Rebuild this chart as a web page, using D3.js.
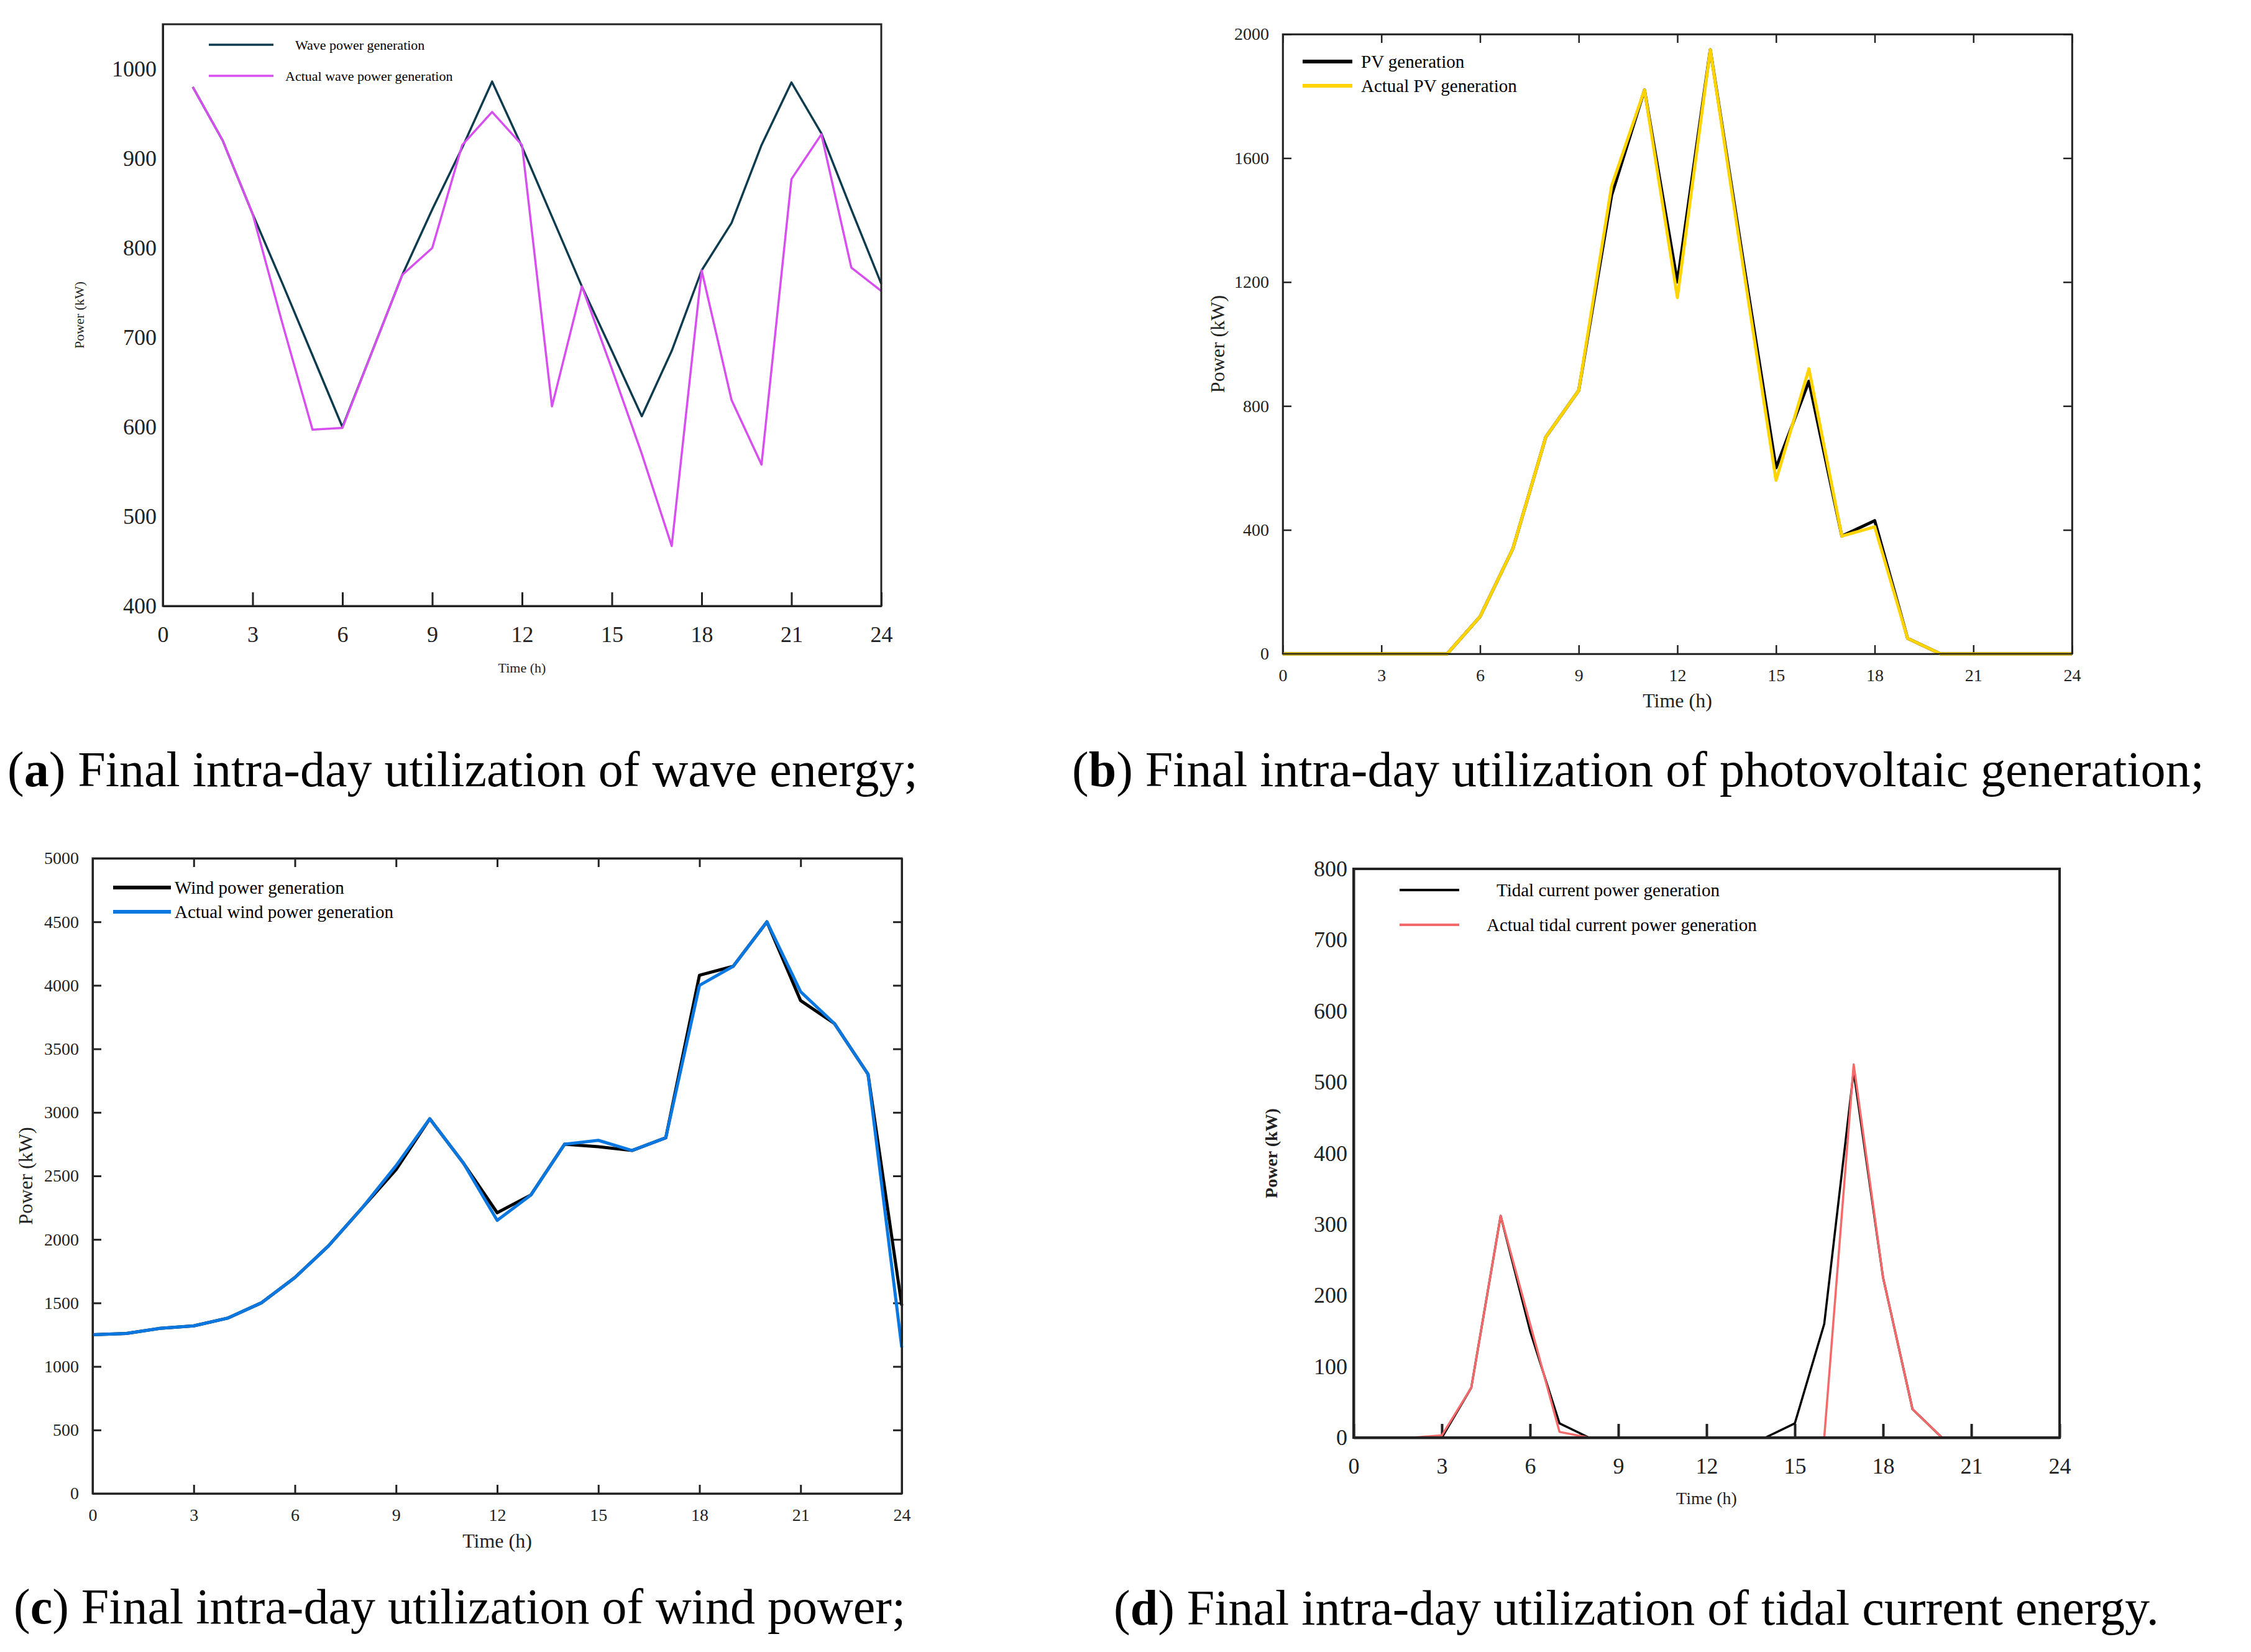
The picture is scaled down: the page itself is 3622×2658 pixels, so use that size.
<!DOCTYPE html>
<html><head><meta charset="utf-8">
<script src="https://cdn.jsdelivr.net/npm/d3@7"></script>
<style>body{margin:0;background:#fff}svg{font-family:"Liberation Serif",serif}</style>
</head><body>
<svg id="fig" width="3622" height="2658"></svg>
<script>
const hours = d3.range(0, 25);
const xTicks = [0, 3, 6, 9, 12, 15, 18, 21, 24];

// (a) wave, hours 1..24
const waveHours = d3.range(1, 25);
const waveGen = [980, 920, 838, 760, 680, 600, 685, 770, 843, 912, 986, 913, 835, 757, 685, 612, 685, 775, 828, 915, 985, 928, 843, 760];
const waveAct = [980, 920, 838, 715, 597, 599, 685, 770, 800, 915, 952, 915, 623, 757, 665, 570, 467, 775, 630, 558, 877, 927, 778, 752];
// (b) PV, hours 0..24
const pvGen = [0, 0, 0, 0, 0, 0, 120, 340, 700, 850, 1480, 1820, 1200, 1950, 1270, 600, 880, 380, 430, 50, 0, 0, 0, 0, 0];
const pvAct = [0, 0, 0, 0, 0, 0, 120, 340, 700, 850, 1510, 1820, 1150, 1950, 1250, 560, 920, 380, 410, 50, 0, 0, 0, 0, 0];
// (c) wind
const windGen = [1250, 1260, 1300, 1320, 1380, 1500, 1700, 1950, 2250, 2550, 2950, 2600, 2210, 2350, 2750, 2730, 2700, 2800, 4080, 4150, 4500, 3880, 3700, 3300, 1480];
const windAct = [1250, 1260, 1300, 1320, 1380, 1500, 1700, 1950, 2250, 2580, 2950, 2600, 2150, 2350, 2750, 2780, 2700, 2800, 4000, 4150, 4500, 3950, 3700, 3300, 1150];
// (d) tidal
const tidalGen = [0, 0, 0, 0, 70, 312, 150, 20, 0, 0, 0, 0, 0, 0, 0, 20, 160, 515, 225, 40, 0, 0, 0, 0, 0];
const tidalAct = [0, 0, 0, 3, 70, 312, 160, 8, 0, 0, 0, 0, 0, 0, 0, 0, 0, 525, 225, 40, 0, 0, 0, 0, 0];

const svg = d3.select("#fig");

function panel(o) {
  const x = d3.scaleLinear().domain([0, 24]).range([o.x0, o.x1]);
  const y = d3.scaleLinear().domain(o.yDom).range([o.y1, o.y0]);
  const g = svg.append("g");
  const tl = o.tickLen;
  const bx = d3.axisBottom(x).tickValues(xTicks).tickSize(-tl).tickPadding(tl + 10).tickSizeOuter(0);
  g.append("g").attr("transform", `translate(0,${o.y1})`).call(bx);
  const ly = d3.axisLeft(y).tickValues(o.yTicks).tickFormat(d3.format("d"))
    .tickSize(o.yTicksIn ? -tl : 0).tickPadding(o.yTicksIn ? tl + 8 : 10).tickSizeOuter(0);
  g.append("g").attr("transform", `translate(${o.x0},0)`).call(ly);
  if (o.mirror) {
    g.append("g").attr("transform", `translate(${o.x1},0)`)
      .call(d3.axisRight(y).tickValues(o.yTicks).tickSize(-tl).tickFormat("").tickSizeOuter(0));
    g.append("g").attr("transform", `translate(0,${o.y0})`)
      .call(d3.axisTop(x).tickValues(xTicks).tickSize(-tl).tickFormat("").tickSizeOuter(0));
  }
  g.selectAll(".tick text").attr("font-size", o.tickFont).attr("fill", "#222").attr("font-family", "Liberation Serif");
  g.selectAll(".domain,.tick line").attr("stroke", "#222").attr("stroke-width", o.frameW);

  const line = d3.line().x((d, i) => x(o.xs[i])).y(d => y(d));
  o.series.forEach(s => {
    g.append("path").datum(s.values).attr("fill", "none").attr("stroke", s.color)
      .attr("stroke-width", o.lineW).attr("stroke-linejoin", "round").attr("d", line);
  });
  g.append("rect").attr("x", o.x0).attr("y", o.y0).attr("width", o.x1 - o.x0).attr("height", o.y1 - o.y0)
    .attr("fill", "none").attr("stroke", "#222").attr("stroke-width", o.frameW);
  o.series.forEach((s, i) => {
    const ly0 = o.legY[i];
    g.append("line").attr("x1", o.legX[0]).attr("x2", o.legX[1]).attr("y1", ly0).attr("y2", ly0)
      .attr("stroke", s.color).attr("stroke-width", o.legW);
    g.append("text").attr("x", o.legTextX[i]).attr("y", ly0).attr("dy", "0.35em")
      .attr("font-size", o.legFont).text(s.name);
  });
  g.append("text").attr("x", (o.x0 + o.x1) / 2).attr("y", o.xLabY).attr("text-anchor", "middle")
    .attr("font-size", o.labFont).attr("fill", "#222").text("Time (h)");
  g.append("text").attr("transform", `translate(${o.yLabX},${(o.y0 + o.y1) / 2}) rotate(-90)`)
    .attr("text-anchor", "middle").attr("font-size", o.labFont).attr("font-weight", o.yLabBold ? "bold" : "normal")
    .attr("fill", "#222").text("Power (kW)");
  const cap = svg.append("text").attr("x", o.capX).attr("y", o.capY).attr("font-size", 80).attr("font-family", "Liberation Serif");
  cap.append("tspan").text("(");
  cap.append("tspan").attr("font-weight", "bold").text(o.letter);
  cap.append("tspan").text(") " + o.caption);
}

panel({
  x0: 262, x1: 1418, y0: 39, y1: 975, yDom: [400, 1050], yTicks: d3.range(400, 1001, 100),
  xs: waveHours, tickLen: 22, yTicksIn: false, mirror: false, tickFont: 36, frameW: 3, lineW: 3.5,
  series: [{ name: "Wave power generation", color: "#0d3b4f", values: waveGen },
           { name: "Actual wave power generation", color: "#d84ff0", values: waveAct }],
  legX: [336, 440], legY: [72, 122], legTextX: [475, 459], legW: 3.5, legFont: 22,
  labFont: 22, xLabY: 1082, yLabX: 135, capX: 12, capY: 1265, letter: "a",
  caption: "Final intra-day utilization of wave energy;"
});
panel({
  x0: 2064, x1: 3334, y0: 55, y1: 1052, yDom: [0, 2000], yTicks: d3.range(0, 2001, 400),
  xs: hours, tickLen: 14, yTicksIn: true, mirror: true, tickFont: 28, frameW: 2.5, lineW: 5,
  series: [{ name: "PV generation", color: "#000", values: pvGen },
           { name: "Actual PV generation", color: "#ffd400", values: pvAct }],
  legX: [2096, 2176], legY: [99, 138], legTextX: [2190, 2190], legW: 6, legFont: 29,
  labFont: 32, xLabY: 1138, yLabX: 1970, capX: 1725, capY: 1265, letter: "b",
  caption: "Final intra-day utilization of photovoltaic generation;"
});
panel({
  x0: 149, x1: 1451, y0: 1381, y1: 2403, yDom: [0, 5000], yTicks: d3.range(0, 5001, 500),
  xs: hours, tickLen: 14, yTicksIn: true, mirror: true, tickFont: 28, frameW: 3, lineW: 5,
  series: [{ name: "Wind power generation", color: "#000", values: windGen },
           { name: "Actual wind power generation", color: "#0a78e0", values: windAct }],
  legX: [182, 275], legY: [1428, 1467], legTextX: [281, 281], legW: 6, legFont: 29,
  labFont: 32, xLabY: 2490, yLabX: 52, capX: 22, capY: 2612, letter: "c",
  caption: "Final intra-day utilization of wind power;"
});
panel({
  x0: 2178, x1: 3314, y0: 1398, y1: 2313, yDom: [0, 800], yTicks: d3.range(0, 801, 100),
  xs: hours, tickLen: 22, yTicksIn: false, mirror: false, tickFont: 36, frameW: 4, lineW: 3.5,
  series: [{ name: "Tidal current power generation", color: "#000", values: tidalGen },
           { name: "Actual tidal current power generation", color: "#f46a6a", values: tidalAct }],
  legX: [2252, 2348], legY: [1432, 1488], legTextX: [2408, 2392], legW: 4, legFont: 29,
  labFont: 28, xLabY: 2420, yLabX: 2055, yLabBold: true, capX: 1792, capY: 2614, letter: "d",
  caption: "Final intra-day utilization of tidal current energy."
});
</script>
</body></html>
